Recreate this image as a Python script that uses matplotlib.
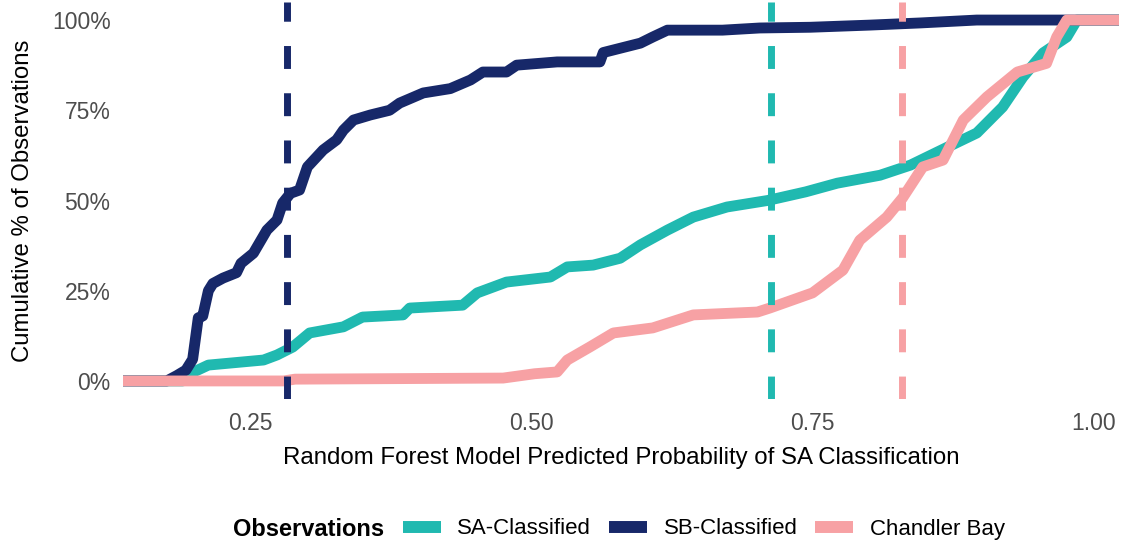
# Import libraries for plotting and numerical work
import matplotlib
matplotlib.use("Agg")
import matplotlib.pyplot as plt
from matplotlib.lines import Line2D

plt.rcParams['font.family'] = ['Liberation Sans', 'DejaVu Sans']

# Cumulative distribution knots (x = predicted probability, y = share)
sa_x = [0.130, 0.190, 0.200, 0.213, 0.262, 0.274, 0.288, 0.303, 0.333, 0.350, 0.386, 0.392,
        0.439, 0.452, 0.478, 0.517, 0.532, 0.555, 0.579, 0.597, 0.621, 0.644, 0.674, 0.710,
        0.744, 0.772, 0.810, 0.837, 0.870, 0.896, 0.919, 0.937, 0.955, 0.976, 0.985, 1.030]
sa_y = [0, 0, 0.025, 0.044, 0.058, 0.072, 0.094, 0.133, 0.150, 0.177, 0.183, 0.202,
        0.210, 0.244, 0.274, 0.288, 0.316, 0.321, 0.340, 0.377, 0.418, 0.454, 0.482, 0.500,
        0.524, 0.548, 0.570, 0.598, 0.648, 0.687, 0.759, 0.842, 0.909, 0.953, 1.0, 1.0]

sb_x = [0.130, 0.176, 0.185, 0.193, 0.199, 0.204, 0.208, 0.213, 0.217, 0.226, 0.238, 0.242,
        0.253, 0.265, 0.274, 0.279, 0.286, 0.294, 0.301, 0.315, 0.327, 0.333, 0.342, 0.357,
        0.374, 0.383, 0.404, 0.428, 0.446, 0.457, 0.478, 0.487, 0.523, 0.561, 0.564, 0.597,
        0.608, 0.621, 0.670, 0.703, 0.748, 0.801, 0.846, 0.896, 1.030]
sb_y = [0, 0, 0.015, 0.030, 0.060, 0.175, 0.180, 0.250, 0.270, 0.285, 0.300, 0.326,
        0.354, 0.418, 0.446, 0.493, 0.520, 0.529, 0.593, 0.640, 0.668, 0.695, 0.723, 0.737,
        0.750, 0.770, 0.798, 0.810, 0.834, 0.856, 0.856, 0.875, 0.884, 0.884, 0.910, 0.936,
        0.953, 0.972, 0.972, 0.978, 0.980, 0.986, 0.992, 1.0, 1.0]

cb_x = [0.130, 0.280, 0.290, 0.475, 0.503, 0.523, 0.532, 0.552, 0.573, 0.608, 0.644, 0.701,
        0.712, 0.750, 0.777, 0.792, 0.816, 0.830, 0.848, 0.866, 0.884, 0.905, 0.932, 0.958,
        0.967, 0.976, 1.030]
cb_y = [0, 0, 0.005, 0.008, 0.020, 0.025, 0.058, 0.094, 0.133, 0.147, 0.183, 0.191,
        0.202, 0.244, 0.307, 0.390, 0.454, 0.507, 0.593, 0.612, 0.723, 0.787, 0.856, 0.880,
        0.953, 1.0, 1.0]

# Median predicted probability for each group (dashed lines)
medians = [0.7127, 0.2826, 0.8297]

labels = ['SA-Classified', 'SB-Classified', 'Chandler Bay']
colors = ['#20B9B0', '#172869', '#F7A1A4']

# Tick positions and labels
x_ticks = [0.25, 0.50, 0.75, 1.00]
x_tick_labels = ['0.25', '0.50', '0.75', '1.00']
y_ticks = [0, 0.25, 0.5, 0.75, 1.0]
y_tick_labels = ['0%', '25%', '50%', '75%', '100%']

# Create the figure and place the panel
fig = plt.figure(figsize=(11.21, 5.44), dpi=100)
ax = fig.add_axes([123 / 1121, 145 / 544, 996 / 1121, 397 / 544])

# Draw the cumulative curves
series = [(sa_x, sa_y), (sb_x, sb_y), (cb_x, cb_y)]
for (xs, ys), col, lab in zip(series, colors, labels):
    ax.plot(xs, ys, color=col, lw=7.8, solid_capstyle='butt',
            solid_joinstyle='round', label=lab)

# Dashed median lines on top
for m, col in zip(medians, colors):
    ax.axvline(m, color=col, lw=5, linestyle=(0, (3.3, 3.5)), dash_capstyle='butt')

# Axis limits and ticks
ax.set_xlim(0.1371, 1.0224)
ax.set_ylim(-0.05, 1.05)
ax.set_xticks(x_ticks)
ax.set_xticklabels(x_tick_labels)
ax.set_yticks(y_ticks)
ax.set_yticklabels(y_tick_labels)
ax.tick_params(axis='both', length=0, labelsize=16.5, labelcolor='#4D4D4D')
ax.tick_params(axis='x', pad=9)
ax.tick_params(axis='y', pad=9)
for s in ax.spines.values():
    s.set_visible(False)

# Axis titles
fig.text(621 / 1121, (544 - 464) / 544,
         'Random Forest Model Predicted Probability of SA Classification',
         ha='center', va='baseline', fontsize=17.3)
fig.text(23 / 1121, 1 - 201 / 544, 'Cumulative % of Observations',
         rotation=90, ha='center', va='center', fontsize=17.3)

# Legend at the bottom with its title on the left
handles = [Line2D([0], [0], color=c, lw=8.6, solid_capstyle='butt') for c in colors]
fig.legend(handles, labels, loc='center left', bbox_to_anchor=(403 / 1121, 1 - 529 / 544),
           ncol=3, frameon=False, fontsize=16, handlelength=1.7, handletextpad=0.75,
           columnspacing=0.8, borderpad=0, borderaxespad=0)
fig.text(233 / 1121, 1 - 529 / 544, 'Observations', ha='left', va='center',
         fontsize=17, fontweight='bold')

# Save the plot
plt.savefig('out.png', dpi=100)
